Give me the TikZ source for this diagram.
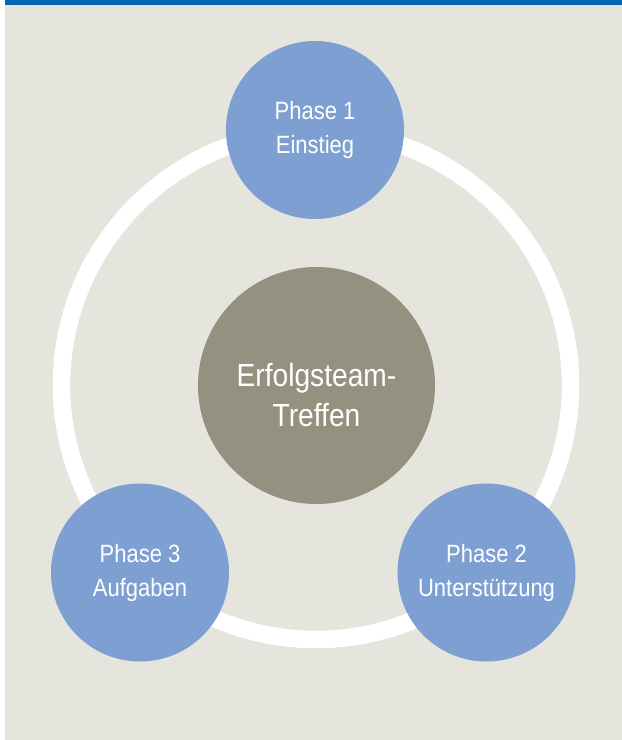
\documentclass[tikz,border=0pt]{standalone}
\usepackage{fontspec}
\setmainfont{Liberation Sans}[FakeStretch=0.88]
\definecolor{bgbeige}{RGB}{229,228,221}
\definecolor{topbar}{RGB}{0,102,178}
\definecolor{phaseblue}{RGB}{125,159,209}
\definecolor{corecol}{RGB}{148,145,128}
\begin{document}
\begin{tikzpicture}[x=1pt,y=-1pt,
  phase/.style={circle,fill=phaseblue,minimum size=178pt,inner sep=0pt},
  core/.style={circle,fill=corecol,minimum size=237pt,inner sep=0pt},
  ptext/.style={anchor=base,text=white,font=\fontsize{25}{30}\selectfont,inner sep=0pt},
  ctext/.style={anchor=base,text=white,font=\fontsize{32}{38}\selectfont,inner sep=0pt}]
\useasboundingbox (0,0) rectangle (622,740);
\fill[white] (0,0) rectangle (622,740);
\fill[bgbeige] (5,0) rectangle (622,740);
\fill[topbar] (5,0) rectangle (622,5);
\coordinate (ringc) at (316,385);
\draw[white,line width=17.5pt] (ringc) circle[radius=254.5pt];
\node[core] (core) at (316.5,385.5) {};
\node[phase] (p1) at (315,130) {};
\node[phase] (p2) at (486.5,572.5) {};
\node[phase] (p3) at (140,572.5) {};
\node[ctext] (c1) at ([yshift=-0.5pt]core.center) {Erfolgsteam-};
\node[ctext] (c2) at ([yshift=-40.5pt]core.center) {Treffen};
\node[ptext] (p1a) at ([yshift=10.5pt]p1.center) {Phase 1};
\node[ptext] (p1b) at ([yshift=-23.5pt]p1.center) {Einstieg};
\node[ptext] (p2a) at ([yshift=10.5pt]p2.center) {Phase 2};
\node[ptext] (p2b) at ([yshift=-23.5pt]p2.center) {Unterstützung};
\node[ptext] (p3a) at ([yshift=10.5pt]p3.center) {Phase 3};
\node[ptext] (p3b) at ([yshift=-23.5pt]p3.center) {Aufgaben};
\end{tikzpicture}
\end{document}
